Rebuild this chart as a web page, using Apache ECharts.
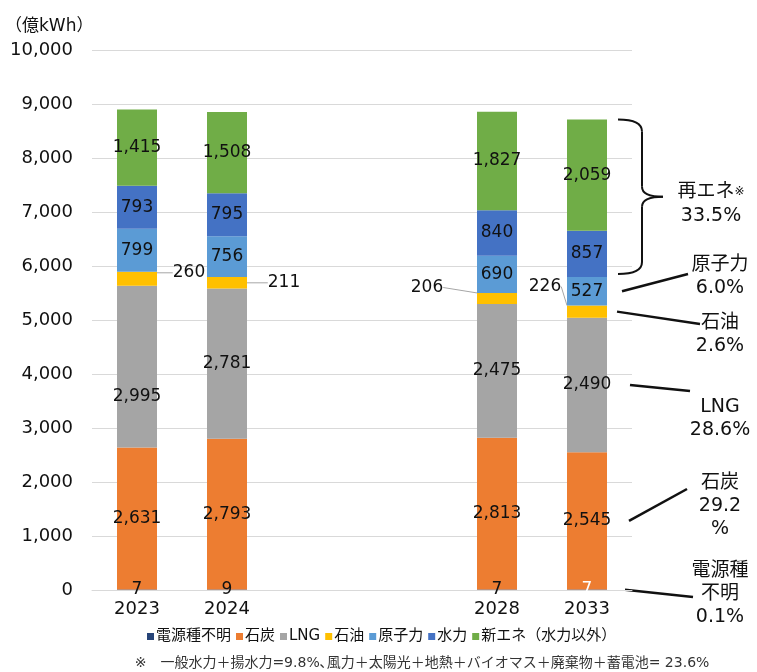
<!DOCTYPE html>
<html>
<head>
<meta charset="utf-8">
<script src="https://cdn.jsdelivr.net/npm/echarts@6/dist/echarts.min.js"></script>
<style>
html, body { margin: 0; padding: 0; background: #fff; }
#main { width: 757px; height: 672px; }
</style>
</head>
<body>
<div id="main"></div>
<script>
// 年度（空白2つで2024と2028の間をあける）
var years = ['2023', '2024', '', ' ', '2028', '2033'];
var seriesNames = ['電源種不明', '石炭', 'LNG', '石油', '原子力', '水力', '新エネ（水力以外）'];
var seriesColors = ['#264478', '#ED7D31', '#A5A5A5', '#FFC000', '#5B9BD5', '#4472C4', '#70AD47'];

var unknownData   = [7, 9, null, null, 7, 7];
var coalData      = [2631, 2793, null, null, 2813, 2545];
var lngData       = [2995, 2781, null, null, 2475, 2490];
var oilData       = [260, 211, null, null, 206, 226];
var nuclearData   = [799, 756, null, null, 690, 527];
var hydroData     = [793, 795, null, null, 840, 857];
var newEnergyData = [1415, 1508, null, null, 1827, 2059];

var yMin = 0, yMax = 10000, yStep = 1000;

// 2033年度の構成比（右側の注記）
var shareNotes = [
	{ series: 0, text: '電源種\n不明\n0.1%' },
	{ series: 1, text: '石炭\n29.2\n%' },
	{ series: 2, text: 'LNG\n28.6%' },
	{ series: 3, text: '石油\n2.6%' },
	{ series: 4, text: '原子力\n6.0%' }
];
var renewNote = '再エネ{s|※}\n33.5%';
var footNote = '※　一般水力＋揚水力=9.8%､風力＋太陽光＋地熱＋バイオマス＋廃棄物＋蓄電池= 23.6%';

// 数字は幅の広いDejaVu、和文はNoto
var FONT = '"DejaVu Sans", "Noto Sans CJK JP", sans-serif';
var allData = [unknownData, coalData, lngData, oilData, nuclearData, hydroData, newEnergyData];

function fmt(v) {
	return Number(v).toLocaleString('en-US');
}

// 石油ラベルは棒の外に出して引き出し線
var oilShift = [[52, -6], [57, 0], null, null, [-70, -11], [-42, -25]];

var series = [];
for (var s = 0; s < allData.length; s++) {
	var data = allData[s].map(function (v, i) {
		if (v == null) return null;
		if (s === 0 && i === 5) return { value: v, label: { color: '#fff' } };
		if (s === 2 && i === 0) return { value: v, label: { offset: [0, 30] } };
		return v;
	});
	var item = {
		name: seriesNames[s],
		type: 'bar',
		stack: 'total',
		barWidth: 40,
		data: data,
		itemStyle: { color: seriesColors[s] },
		label: {
			show: true,
			position: 'inside',
			color: '#111',
			fontFamily: FONT,
			fontSize: 17,
			padding: [3, 0, 0, 0],
			formatter: function (p) { return fmt(p.value); }
		}
	};
	if (s === 3) {
		item.labelLayout = function (p) {
			var sh = oilShift[p.dataIndex];
			return sh ? { dx: sh[0], dy: sh[1] } : {};
		};
		item.labelLine = { show: true, lineStyle: { color: '#a6a6a6', width: 1 } };
	}
	series.push(item);
}

var myChart = echarts.init(document.getElementById('main'));
var option = {
	animation: false,
	title: {
		text: '（億kWh）',
		left: 0,
		top: 13,
		textStyle: { fontFamily: FONT, fontSize: 17, fontWeight: 'normal', color: '#111' }
	},
	grid: { left: 92, right: 125, top: 50, bottom: 82, containLabel: false },
	legend: {
		data: seriesNames,
		left: 142,
		top: 624,
		icon: 'rect',
		itemWidth: 7,
		itemHeight: 7,
		itemGap: 5,
		textStyle: { fontFamily: FONT, fontSize: 15, color: '#111', padding: [0, 0, 0, -3] }
	},
	xAxis: {
		type: 'category',
		data: years,
		axisLine: { lineStyle: { color: '#d9d9d9' } },
		axisTick: { show: false },
		axisLabel: { color: '#111', fontFamily: FONT, fontSize: 18, margin: 10 }
	},
	yAxis: {
		type: 'value',
		min: yMin,
		max: yMax,
		interval: yStep,
		axisLine: { show: false },
		axisTick: { show: false },
		splitLine: { lineStyle: { color: '#d9d9d9' } },
		axisLabel: { color: '#111', fontFamily: FONT, fontSize: 18, margin: 19, padding: [3, 0, 0, 0], formatter: fmt }
	},
	series: series
};
myChart.setOption(option);

// 右側の注記（2033年度の棒に合わせて配置）
var last = years.length - 1;
var cum = [];
var acc = 0;
for (var k = 0; k < allData.length; k++) {
	cum.push([acc, acc + allData[k][last]]);
	acc += allData[k][last];
}
function px(v) { return myChart.convertToPixel({ xAxisIndex: 0, yAxisIndex: 0 }, [years[last], v]); }
var barRight = px(0)[0] + 20;

var noteTextPos = {
	0: { y: 571, end: [693, 597] },
	1: { y: 483, end: [687, 489] },
	2: { y: 407, end: [690, 391] },
	3: { y: 323, end: [700, 324] },
	4: { y: 265, end: [688, 274] }
};
var lineStartX = { 0: 18, 1: 22, 2: 23, 3: 10, 4: 15 };

var graphics = [];
shareNotes.forEach(function (n) {
	var c = cum[n.series];
	var yMid = px((c[0] + c[1]) / 2)[1];
	var pos = noteTextPos[n.series];
	graphics.push({
		type: 'line',
		shape: { x1: barRight + lineStartX[n.series], y1: yMid, x2: pos.end[0], y2: pos.end[1] },
		style: { stroke: '#111', lineWidth: 2.5 }
	});
	graphics.push({
		type: 'text',
		x: 720,
		y: pos.y - 11,
		style: {
			text: n.text,
			fill: '#111',
			font: '19px ' + FONT,
			align: 'center',
			lineHeight: 23
		}
	});
});

// 再エネの括弧
var bTop = px(cum[6][1])[1];
var bBot = px(cum[4][1])[1] - 3;
var bMid = (bTop + bBot) / 2;
var x0 = barRight + 11, x1 = barRight + 35, xt = barRight + 56;
var braceStyle = { stroke: '#111', lineWidth: 2, fill: null };
[
	[x0, bTop, x1, bTop + 12, x1, bTop],
	[x1, bMid - 10, xt, bMid, x1, bMid],
	[xt, bMid, x1, bMid + 10, x1, bMid],
	[x1, bBot - 12, x0, bBot, x1, bBot]
].forEach(function (b) {
	graphics.push({
		type: 'bezierCurve',
		shape: { x1: b[0], y1: b[1], x2: b[2], y2: b[3], cpx1: b[4], cpy1: b[5] },
		style: braceStyle
	});
});
graphics.push({ type: 'line', shape: { x1: x1, y1: bTop + 12, x2: x1, y2: bMid - 10 }, style: braceStyle });
graphics.push({ type: 'line', shape: { x1: x1, y1: bMid + 10, x2: x1, y2: bBot - 12 }, style: braceStyle });
graphics.push({
	type: 'text',
	x: 711,
	y: bMid - 17,
	style: {
		text: renewNote,
		fill: '#111',
		font: '19px ' + FONT,
		align: 'center',
		lineHeight: 24,
		rich: { s: { fontSize: 12, fontFamily: FONT, fill: '#111' } }
	}
});
graphics.push({
	type: 'text',
	x: 422,
	y: 656,
	style: {
		text: footNote,
		fill: '#333',
		font: '14px ' + FONT,
		align: 'center'
	}
});
myChart.setOption({ graphic: graphics });
</script>
</body>
</html>
